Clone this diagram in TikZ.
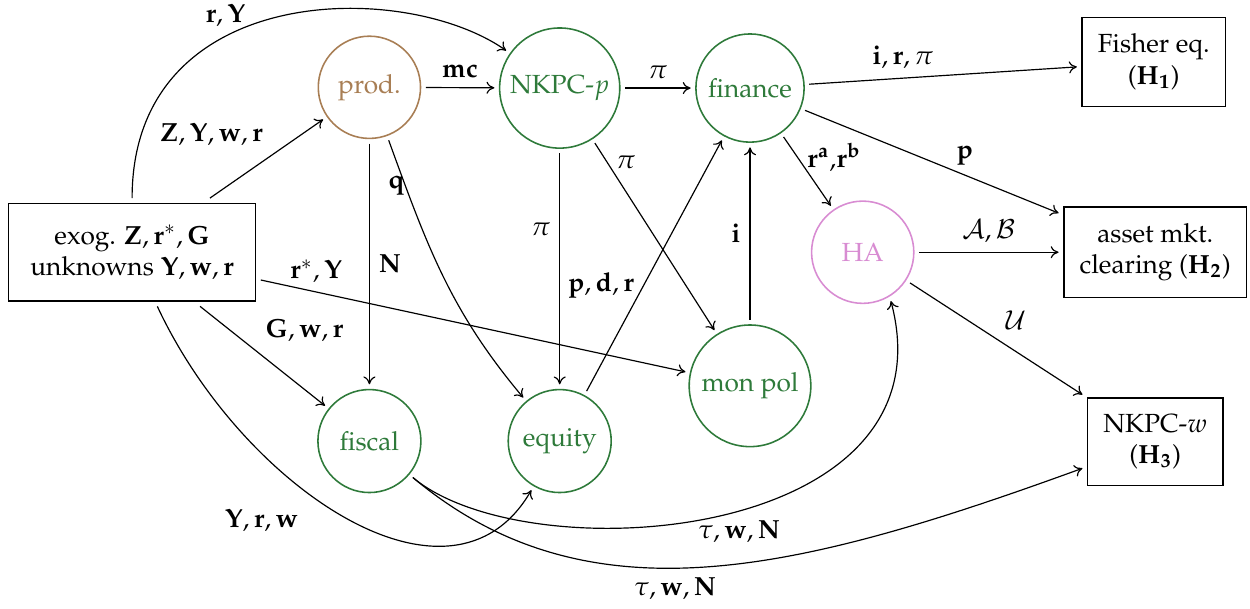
\documentclass[tikz,border=0pt]{standalone}
\usepackage[T1]{fontenc}
\usepackage{mathpazo}
\usetikzlibrary{positioning}
\usetikzlibrary{arrows.meta}
\definecolor{blkgreen}{RGB}{46,122,58}
\definecolor{blkbrown}{RGB}{168,126,84}
\definecolor{blkpink}{RGB}{216,140,210}
\tikzset{
    blockg/.style = {circle, semithick, draw=blkgreen, text=blkgreen, align=center, inner sep=1pt, outer sep=2pt},
    blockb/.style = {circle, semithick, draw=blkbrown, text=blkbrown, align=center, inner sep=1pt, outer sep=2pt},
    blockp/.style = {circle, semithick, draw=blkpink, text=blkpink, align=center, inner sep=1pt, outer sep=2pt},
    eqbox/.style = {rectangle, semithick, draw=black, align=center, inner xsep=4pt, outer sep=2pt},
    edgen/.style = {-{To[length=3pt,width=4.6pt]}, line width=0.45pt},
}

\begin{document}
\begin{tikzpicture}
\useasboundingbox (0,0) rectangle (16.75,-8.15);
%
\node[eqbox, minimum width=3.31cm, minimum height=1.31cm] at (1.77,-3.38) (exog) {exog. $\mathbf{Z}, \mathbf{r}^*, \mathbf{G}$\\ unknowns $\mathbf{Y}, \mathbf{w}, \mathbf{r}$};
\node[blockb, minimum size=1.37cm] at (4.95,-1.17) (prod) {prod.};
\node[blockg, minimum size=1.61cm] at (7.50,-1.18) (nkpcp) {NKPC-$p$};
\node[blockg, minimum size=1.45cm] at (10.05,-1.18) (finance) {finance};
\node[blockp, minimum size=1.37cm] at (11.56,-3.38) (ha) {HA};
\node[blockg, minimum size=1.63cm] at (10.05,-5.17) (monpol) {mon pol};
\node[blockg, minimum size=1.38cm] at (4.95,-5.91) (fiscal) {fiscal};
\node[blockg, minimum size=1.38cm] at (7.50,-5.91) (equity) {equity};
\node[eqbox, minimum width=1.92cm, minimum height=1.19cm] at (15.46,-0.83) (fisher) {Fisher eq.\\ ($\mathbf{H_1}$)};
\node[eqbox, minimum width=2.45cm, minimum height=1.21cm] at (15.48,-3.38) (asset) {asset mkt.\\ clearing ($\mathbf{H_2}$)};
\node[eqbox, minimum width=1.81cm, minimum height=1.17cm] at (15.48,-5.92) (nkpcw) {NKPC-$w$\\ ($\mathbf{H_3}$)};
%
\draw[edgen] (exog) -- node[pos=0.55, above left] {$\mathbf{Z}, \mathbf{Y}, \mathbf{w}, \mathbf{r}$} (prod);
\draw[edgen] (exog) to[out=90, in=145, out distance=2.9cm, in distance=1.68cm] node[pos=0.38, above] {$\mathbf{r}, \mathbf{Y}$} (nkpcp);
\draw[edgen] (exog) -- node[pos=0.13, above] {$\mathbf{r}^*, \mathbf{Y}$} (monpol);
\draw[edgen] (exog) -- node[pos=0.45, above right] {$\mathbf{G}, \mathbf{w}, \mathbf{r}$} (fiscal);
\draw[edgen] (exog) to[out=-65, in=-120, out distance=2.68cm, in distance=2.14cm] node[pos=0.42, below left=2pt] {$\mathbf{Y}, \mathbf{r}, \mathbf{w}$} (equity);
\draw[edgen] (prod) -- node[above] {$\mathbf{mc}$} (nkpcp);
\draw[edgen] (prod) -- node[right] {$\mathbf{N}$} (fiscal);
\draw[edgen] (prod) to[out=-70, in=130] node[pos=0.15, left, inner sep=0pt] {$\mathbf{q}$} (equity);
\draw[edgen] (nkpcp) -- node[above] {$\pi$} (finance);
\draw[edgen] (nkpcp) -- node[pos=0.33, left] {$\pi$} (equity);
\draw[edgen] (nkpcp) -- node[pos=0.1, right] {$\pi$} (monpol);
\draw[edgen] (finance) -- node[pos=0.35, above] {$\mathbf{i}, \mathbf{r}, \pi$} (fisher);
\draw[edgen] (finance) -- node[pos=0.63, above] {$\mathbf{p}$} (asset);
\draw[edgen] (finance) -- node[pos=0.3, right] {$\mathbf{r^a}$,$\mathbf{r^b}$} (ha);
\draw[edgen] (monpol) -- node[left] {$\mathbf{i}$} (finance);
\draw[edgen] (equity) -- node[pos=0.42, left] {$\mathbf{p}, \mathbf{d}, \mathbf{r}$} (finance);
\draw[edgen] (ha) -- node[above] {$\mathcal{A}, \mathcal{B}$} (asset);
\draw[edgen] (ha) -- node[above right] {$\mathcal{U}$} (nkpcw);
\draw[edgen] (fiscal) to[out=-40, in=-75, out distance=2.01cm, in distance=3.35cm] node[pos=0.53, below] {$\tau, \mathbf{w}, \mathbf{N}$} (ha.-60);
\draw[edgen] (fiscal) to[out=-40, in=-160, out distance=3.08cm, in distance=4.02cm] node[pos=0.45, below] {$\tau, \mathbf{w}, \mathbf{N}$} (nkpcw.-160);
\end{tikzpicture}
\end{document}
